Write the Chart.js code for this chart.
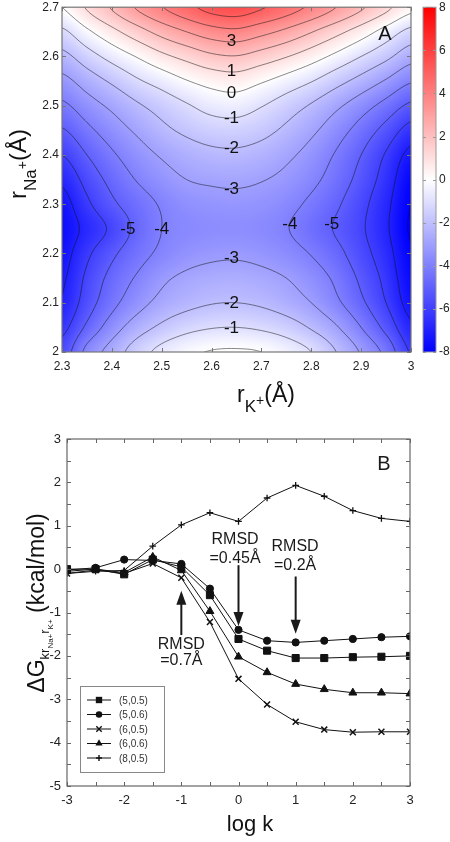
<!DOCTYPE html>
<html>
<head>
<meta charset="utf-8">
<script src="https://cdn.jsdelivr.net/npm/chart.js@4.4.0/dist/chart.umd.min.js"></script>
<style>
  html, body { margin: 0; padding: 0; background: #fff; }
  #wrapA { position: absolute; left: 0; top: -3px; width: 450px; height: 423px; }
  #wrapB { position: absolute; left: 0; top: 420px; width: 450px; height: 422px; }
</style>
</head>
<body>
<div id="wrapA"><canvas id="mapA"></canvas></div>
<div id="wrapB"><canvas id="lineB"></canvas></div>
<script>
const FONT = '"Liberation Sans", Arial, sans-serif';

// ---- panel A : free energy map ----
const gridX = [2.30, 2.35, 2.40, 2.45, 2.50, 2.55, 2.60, 2.65, 2.70, 2.75, 2.80, 2.85, 2.90, 2.95, 3.00];
const gridY = [2.00, 2.05, 2.10, 2.15, 2.20, 2.25, 2.30, 2.35, 2.40, 2.45, 2.50, 2.55, 2.60, 2.65, 2.70];
const z200 = [-5.6, -3.7, -2.6, -1.5, -0.7, -0.2, 0.05, 0.1, 0.0, -0.4, -1.0, -2.0, -3.1, -4.3, -6.1];
const z205 = [-6.3, -4.8, -3.5, -2.5, -1.8, -1.3, -1.05, -1.0, -1.15, -1.5, -2.1, -2.9, -4.0, -5.3, -6.8];
const z210 = [-6.9, -5.5, -4.3, -3.4, -2.7, -2.3, -2.05, -2.0, -2.15, -2.5, -3.0, -3.8, -4.8, -6.0, -7.4];
const z215 = [-7.15, -5.8, -4.7, -3.9, -3.2, -2.8, -2.6, -2.55, -2.7, -3.0, -3.5, -4.2, -5.2, -6.3, -7.7];
const z220 = [-7.4, -6.2, -5.2, -4.4, -3.8, -3.4, -3.2, -3.15, -3.3, -3.6, -4.05, -4.7, -5.6, -6.6, -7.9];
const z225 = [-7.6, -6.7, -5.8, -4.75, -4.0, -3.7, -3.58, -3.55, -3.65, -3.95, -4.5, -5.1, -5.85, -6.85, -8.1];
const z230 = [-7.4, -6.2, -5.2, -4.5, -3.9, -3.5, -3.35, -3.3, -3.4, -3.7, -4.2, -4.85, -5.7, -6.75, -8.0];
const z235 = [-6.8, -5.65, -4.7, -3.95, -3.4, -3.0, -2.85, -2.8, -2.95, -3.25, -3.75, -4.45, -5.35, -6.45, -7.8];
const z240 = [-6.0, -5.0, -4.15, -3.45, -2.9, -2.5, -2.25, -2.2, -2.4, -2.8, -3.35, -4.1, -5.0, -6.1, -7.3];
const z245 = [-5.1, -4.25, -3.5, -2.85, -2.25, -1.8, -1.5, -1.45, -1.7, -2.2, -2.8, -3.55, -4.4, -5.35, -6.4];
const z250 = [-4.2, -3.45, -2.8, -2.15, -1.6, -1.1, -0.65, -0.55, -0.95, -1.5, -2.1, -2.8, -3.55, -4.35, -5.2];
const z255 = [-3.3, -2.55, -1.85, -1.15, -0.6, -0.05, 0.35, 0.5, 0.1, -0.4, -0.95, -1.65, -2.35, -3.1, -3.9];
const z260 = [-2.3, -1.45, -0.65, 0.05, 0.75, 1.3, 1.8, 1.95, 1.55, 1.05, 0.45, -0.25, -1.0, -1.75, -2.6];
const z265 = [-1.2, -0.2, 0.7, 1.55, 2.35, 3.0, 3.55, 3.75, 3.3, 2.75, 2.05, 1.3, 0.5, -0.4, -1.3];
const z270 = [0.0, 1.1, 2.1, 3.1, 3.95, 4.7, 5.35, 5.55, 5.1, 4.5, 3.8, 3.0, 2.15, 1.25, 0.3];
const zGrid = [z200, z205, z210, z215, z220, z225, z230, z235, z240, z245, z250, z255, z260, z265, z270];

const contourLevels = [-8, -7, -6, -5, -4, -3, -2, -1, 0, 1, 2, 3, 4, 5, 6];
const labelText = ['3', '1', '0', '-1', '-2', '-3', '-3', '-2', '-1', '-5', '-4', '-4', '-5'];
const labelX = [2.64, 2.64, 2.64, 2.64, 2.64, 2.64, 2.64, 2.64, 2.64, 2.432, 2.50, 2.757, 2.841];
const labelY = [2.631, 2.569, 2.525, 2.474, 2.414, 2.331, 2.19, 2.099, 2.049, 2.25, 2.25, 2.26, 2.26];
const cbTicks = [8, 6, 4, 2, 0, -2, -4, -6, -8];

// ---- panel B : dG vs log k ----
const logK = [-3, -2.5, -2, -1.5, -1, -0.5, 0, 0.5, 1, 1.5, 2, 2.5, 3];
const seriesNames = ['(5,0.5)', '(5,0.6)', '(6,0.5)', '(6,0.6)', '(8,0.5)'];
const g505 = [0.0, 0.0, -0.12, 0.22, 0.05, -0.6, -1.61, -1.88, -2.05, -2.05, -2.03, -2.02, -2.0];
const g506 = [-0.02, 0.03, 0.22, 0.2, 0.12, -0.45, -1.4, -1.65, -1.69, -1.65, -1.61, -1.57, -1.55];
const g605 = [-0.1, -0.02, -0.1, 0.13, -0.2, -1.22, -2.53, -3.12, -3.52, -3.7, -3.76, -3.75, -3.75];
const g606 = [-0.05, 0.0, -0.08, 0.28, -0.03, -0.97, -2.02, -2.38, -2.65, -2.77, -2.85, -2.85, -2.87];
const g805 = [-0.1, -0.05, -0.03, 0.53, 1.02, 1.3, 1.1, 1.64, 1.93, 1.68, 1.35, 1.17, 1.1];

const rmsdX = [-1, -0.06, 0.99];
const rmsdTop = ['RMSD', 'RMSD', 'RMSD'];
const rmsdBottom = ['=0.7Å', '=0.45Å', '=0.2Å'];
const rmsdTopY = [-1.75, 0.69, 0.53];
const rmsdBottomY = [-2.12, 0.25, 0.07];
const arrowX = [-1, 0, 1];
const arrowFrom = [-1.52, 0.09, -0.17];
const arrowTo = [-0.5, -1.31, -1.49];

// ---------- helpers ----------
function cr(p0, p1, p2, p3, t) {
  return p1 + 0.5 * t * (p2 - p0 + t * (2 * p0 - 5 * p1 + 4 * p2 - p3 + t * (3 * (p1 - p2) + p3 - p0)));
}
function zAt(xv, yv) {
  const nx = gridX.length, ny = gridY.length;
  let fx = (xv - gridX[0]) / (gridX[1] - gridX[0]);
  let fy = (yv - gridY[0]) / (gridY[1] - gridY[0]);
  fx = Math.max(0, Math.min(nx - 1, fx));
  fy = Math.max(0, Math.min(ny - 1, fy));
  const i = Math.min(nx - 2, Math.floor(fx)), j = Math.min(ny - 2, Math.floor(fy));
  const tx = fx - i, ty = fy - j;
  const g = (a, b) => zGrid[Math.max(0, Math.min(ny - 1, b))][Math.max(0, Math.min(nx - 1, a))];
  const col = [];
  for (let m = -1; m <= 2; m++) col.push(cr(g(i - 1, j + m), g(i, j + m), g(i + 1, j + m), g(i + 2, j + m), tx));
  return cr(col[0], col[1], col[2], col[3], ty);
}
function colorFor(v) {
  const t = Math.max(-1, Math.min(1, v / 8));
  if (t >= 0) { const c = Math.round(255 * (1 - t)); return [255, c, c]; }
  const c = Math.round(255 * (1 + t));
  return [c, c, 255];
}
// text made of runs (sub/superscripts), centred on cx
function drawRuns(ctx, runs, cx, baseY) {
  let total = 0;
  runs.forEach(r => { ctx.font = r.size + 'px ' + FONT; total += ctx.measureText(r.t).width; });
  let x = cx - total / 2;
  ctx.textAlign = 'left'; ctx.textBaseline = 'alphabetic';
  runs.forEach(r => {
    ctx.font = r.size + 'px ' + FONT;
    ctx.fillText(r.t, x, baseY + (r.dy || 0));
    x += ctx.measureText(r.t).width;
  });
}
function inwardTicks(chart, xVals, yVals, len, color) {
  const { ctx, chartArea: a, scales: { x, y } } = chart;
  ctx.save();
  ctx.strokeStyle = color; ctx.lineWidth = 1;
  ctx.beginPath();
  xVals.forEach(v => {
    const p = Math.round(x.getPixelForValue(v)) + 0.5;
    ctx.moveTo(p, a.bottom); ctx.lineTo(p, a.bottom - len);
    ctx.moveTo(p, a.top); ctx.lineTo(p, a.top + len);
  });
  yVals.forEach(v => {
    const p = Math.round(y.getPixelForValue(v)) + 0.5;
    ctx.moveTo(a.left, p); ctx.lineTo(a.left + len, p);
    ctx.moveTo(a.right, p); ctx.lineTo(a.right - len, p);
  });
  ctx.stroke();
  ctx.lineWidth = 1.2;
  ctx.strokeRect(a.left, a.top, a.right - a.left, a.bottom - a.top);
  ctx.restore();
}

// ---------- panel A ----------
const heatPlugin = {
  id: 'heat',
  beforeDatasetsDraw(chart) {
    const { ctx, chartArea: a, scales } = chart;
    const xs = scales.x, ys = scales.y;
    const w = Math.round(a.right - a.left), h = Math.round(a.bottom - a.top);
    const off = document.createElement('canvas');
    off.width = w; off.height = h;
    const octx = off.getContext('2d');
    const img = octx.createImageData(w, h);
    for (let j = 0; j < h; j++) {
      const yv = ys.getValueForPixel(a.top + j + 0.5);
      for (let i = 0; i < w; i++) {
        const c = colorFor(zAt(xs.getValueForPixel(a.left + i + 0.5), yv));
        const k = (j * w + i) * 4;
        img.data[k] = c[0]; img.data[k + 1] = c[1]; img.data[k + 2] = c[2]; img.data[k + 3] = 255;
      }
    }
    octx.putImageData(img, 0, 0);
    ctx.drawImage(off, a.left, a.top, w, h);

    // contour lines (marching squares on the sampled field)
    const N = 140;
    const vx = [], vy = [];
    for (let i = 0; i <= N; i++) {
      vx.push(xs.min + (xs.max - xs.min) * i / N);
      vy.push(ys.min + (ys.max - ys.min) * i / N);
    }
    const V = vy.map(yv => vx.map(xv => zAt(xv, yv)));
    const px = vx.map(v => xs.getPixelForValue(v));
    const py = vy.map(v => ys.getPixelForValue(v));
    const lerp = (p, q, t) => p + (q - p) * t;
    ctx.save();
    ctx.beginPath(); ctx.rect(a.left, a.top, a.right - a.left, a.bottom - a.top); ctx.clip();
    ctx.strokeStyle = 'rgba(20,20,20,0.85)';
    ctx.lineWidth = 0.6;
    ctx.beginPath();
    contourLevels.forEach(L => {
      for (let j = 0; j < N; j++) {
        for (let i = 0; i < N; i++) {
          const p00 = V[j][i], p10 = V[j][i + 1], p11 = V[j + 1][i + 1], p01 = V[j + 1][i];
          const pts = [];
          if ((p00 < L) !== (p10 < L)) pts.push([lerp(px[i], px[i + 1], (L - p00) / (p10 - p00)), py[j]]);
          if ((p10 < L) !== (p11 < L)) pts.push([px[i + 1], lerp(py[j], py[j + 1], (L - p10) / (p11 - p10))]);
          if ((p01 < L) !== (p11 < L)) pts.push([lerp(px[i], px[i + 1], (L - p01) / (p11 - p01)), py[j + 1]]);
          if ((p00 < L) !== (p01 < L)) pts.push([px[i], lerp(py[j], py[j + 1], (L - p00) / (p01 - p00))]);
          for (let s = 0; s + 1 < pts.length; s += 2) {
            ctx.moveTo(pts[s][0], pts[s][1]);
            ctx.lineTo(pts[s + 1][0], pts[s + 1][1]);
          }
        }
      }
    });
    ctx.stroke();
    ctx.restore();
  },
  afterDraw(chart) {
    const { ctx, chartArea: a, scales } = chart;
    const xs = scales.x, ys = scales.y, cb = scales.cb;
    inwardTicks(chart, xs.ticks.map(t => t.value), ys.ticks.map(t => t.value), 4, '#777');

    // contour labels
    ctx.save();
    ctx.fillStyle = '#111';
    ctx.font = '17px ' + FONT;
    ctx.textAlign = 'center'; ctx.textBaseline = 'middle';
    labelText.forEach((t, i) => ctx.fillText(t, xs.getPixelForValue(labelX[i]), ys.getPixelForValue(labelY[i])));
    ctx.font = '20px ' + FONT;
    ctx.fillText('A', a.right - 26, a.top + 27);

    // colour bar
    const bx = 423, bw = 13;
    const top = cb.getPixelForValue(8), bot = cb.getPixelForValue(-8);
    for (let p = Math.floor(top); p < bot; p++) {
      const c = colorFor(cb.getValueForPixel(p + 0.5));
      ctx.fillStyle = 'rgb(' + c.join(',') + ')';
      ctx.fillRect(bx, p, bw, 1);
    }
    ctx.strokeStyle = '#999'; ctx.lineWidth = 1;
    ctx.strokeRect(bx, top, bw, bot - top);
    ctx.beginPath();
    cbTicks.forEach(v => {
      const p = Math.round(cb.getPixelForValue(v)) + 0.5;
      ctx.moveTo(bx + bw, p); ctx.lineTo(bx + bw - 3, p);
      ctx.moveTo(bx, p); ctx.lineTo(bx + 3, p);
    });
    ctx.stroke();
    ctx.fillStyle = '#222';
    ctx.font = '12px ' + FONT;
    ctx.textAlign = 'left'; ctx.textBaseline = 'middle';
    cbTicks.forEach(v => ctx.fillText(String(v), bx + bw + 3, cb.getPixelForValue(v)));

    // axis titles
    ctx.fillStyle = '#111';
    drawRuns(ctx, [
      { t: 'r', size: 23 }, { t: 'K', size: 17, dy: 10 }, { t: '+', size: 14, dy: 3 }, { t: '(Å)', size: 23 }
    ], 266, 405);
    ctx.translate(26, 167);
    ctx.rotate(-Math.PI / 2);
    drawRuns(ctx, [
      { t: 'r', size: 24 }, { t: 'Na', size: 17, dy: 10 }, { t: '+', size: 14, dy: 1 }, { t: '(Å)', size: 24 }
    ], 0, 0);
    ctx.restore();
  }
};

const fmt1 = v => String(Math.round(v * 10) / 10);

new Chart(document.getElementById('mapA'), {
  type: 'scatter',
  data: { datasets: [{ data: [] }] },
  options: {
    responsive: true,
    maintainAspectRatio: false,
    animation: false,
    events: [],
    layout: { padding: { left: 0, right: 39, top: 8, bottom: 0 } },
    plugins: { legend: { display: false }, tooltip: { enabled: false } },
    scales: {
      x: {
        type: 'linear', min: 2.3, max: 3.0,
        grid: { display: false, drawTicks: false }, border: { display: false },
        ticks: { stepSize: 0.1, padding: 7, autoSkip: false, maxRotation: 0, color: '#222',
                 font: { family: FONT, size: 12 }, callback: fmt1 },
        afterFit: s => { s.height = 68; }
      },
      y: {
        type: 'linear', min: 2.0, max: 2.7,
        grid: { display: false, drawTicks: false }, border: { display: false },
        ticks: { stepSize: 0.1, padding: 3, autoSkip: false, color: '#222',
                 font: { family: FONT, size: 12 }, callback: fmt1 },
        afterFit: s => { s.width = 62; }
      },
      cb: { type: 'linear', position: 'right', min: -8, max: 8, display: false }
    }
  },
  plugins: [heatPlugin]
});

// ---------- panel B ----------
const markerStyles = ['rect', 'circle', 'crossRot', 'triangle', 'cross'];
const markerRadius = [5, 3.6, 4.2, 4.6, 3.3];
const seriesValues = [g505, g506, g605, g606, g805];

function drawMarker(ctx, style, r, x, y) {
  ctx.beginPath();
  if (style === 'rect') { const s = r * Math.SQRT1_2; ctx.rect(x - s, y - s, 2 * s, 2 * s); ctx.fill(); }
  else if (style === 'circle') { ctx.arc(x, y, r, 0, Math.PI * 2); ctx.fill(); }
  else if (style === 'triangle') {
    ctx.moveTo(x, y - r); ctx.lineTo(x + r * 0.866, y + r * 0.5); ctx.lineTo(x - r * 0.866, y + r * 0.5);
    ctx.closePath(); ctx.fill();
  } else if (style === 'crossRot') {
    const s = r * 0.707;
    ctx.moveTo(x - s, y - s); ctx.lineTo(x + s, y + s); ctx.moveTo(x - s, y + s); ctx.lineTo(x + s, y - s); ctx.stroke();
  } else {
    ctx.moveTo(x - r, y); ctx.lineTo(x + r, y); ctx.moveTo(x, y - r); ctx.lineTo(x, y + r); ctx.stroke();
  }
}

const notesPlugin = {
  id: 'notes',
  afterDraw(chart) {
    const { ctx, chartArea: a, scales: { x, y } } = chart;
    const halfX = [], halfY = [];
    for (let v = -3; v <= 3.001; v += 0.5) halfX.push(v);
    for (let v = -5; v <= 3.001; v += 0.5) halfY.push(v);
    inwardTicks(chart, halfX, halfY, 4, '#666');

    ctx.save();
    // RMSD notes and arrows
    ctx.fillStyle = '#1a1a1a'; ctx.strokeStyle = '#1a1a1a';
    ctx.font = '16px ' + FONT;
    ctx.textAlign = 'center'; ctx.textBaseline = 'middle';
    rmsdX.forEach((v, i) => {
      const px = x.getPixelForValue(v);
      ctx.fillText(rmsdTop[i], px, y.getPixelForValue(rmsdTopY[i]));
      ctx.fillText(rmsdBottom[i], px, y.getPixelForValue(rmsdBottomY[i]));
    });
    arrowX.forEach((v, i) => {
      const px = x.getPixelForValue(v);
      const y0 = y.getPixelForValue(arrowFrom[i]), y1 = y.getPixelForValue(arrowTo[i]);
      const dir = Math.sign(y1 - y0);
      ctx.lineWidth = 2;
      ctx.beginPath(); ctx.moveTo(px, y0); ctx.lineTo(px, y1 - dir * 10); ctx.stroke();
      ctx.beginPath(); ctx.moveTo(px, y1); ctx.lineTo(px - 5, y1 - dir * 14); ctx.lineTo(px + 5, y1 - dir * 14);
      ctx.closePath(); ctx.fill();
    });

    // panel letter
    ctx.font = '20px ' + FONT;
    ctx.fillText('B', a.right - 26, a.top + 25);

    // legend box
    const lx = a.left + 13, ly = a.top + 247, lw = 84, lh = 86;
    ctx.fillStyle = '#fff';
    ctx.fillRect(lx, ly, lw, lh);
    ctx.strokeStyle = '#888'; ctx.lineWidth = 1;
    ctx.strokeRect(lx + 0.5, ly + 0.5, lw, lh);
    seriesNames.forEach((name, i) => {
      const ry = ly + 14 + i * 14.5;
      ctx.strokeStyle = '#111'; ctx.fillStyle = '#111'; ctx.lineWidth = 1;
      ctx.beginPath(); ctx.moveTo(lx + 7, ry); ctx.lineTo(lx + 31, ry); ctx.stroke();
      ctx.lineWidth = 1.4;
      drawMarker(ctx, markerStyles[i], markerRadius[i] * 0.9, lx + 19, ry);
      ctx.fillStyle = '#333';
      ctx.font = '10px ' + FONT; ctx.textAlign = 'left'; ctx.textBaseline = 'middle';
      ctx.fillText(name, lx + 39, ry + 1);
    });

    // axis titles
    ctx.fillStyle = '#111';
    ctx.font = '22px ' + FONT; ctx.textAlign = 'center'; ctx.textBaseline = 'alphabetic';
    ctx.fillText('log k', 250, 411);
    ctx.translate(44, 183);
    ctx.rotate(-Math.PI / 2);
    drawRuns(ctx, [
      { t: 'ΔG', size: 23 }, { t: 'k', size: 13, dy: 5 }, { t: 'r', size: 13, dy: 5 },
      { t: 'Na+', size: 8, dy: 9 }, { t: 'r', size: 13, dy: 5 }, { t: 'K+', size: 8, dy: 9 },
      { t: ' (kcal/mol)', size: 23 }
    ], 0, 0);
    ctx.restore();
  }
};

new Chart(document.getElementById('lineB'), {
  type: 'scatter',
  data: {
    datasets: seriesNames.map((name, i) => ({
      label: name,
      data: logK.map((k, n) => ({ x: k, y: seriesValues[i][n] })),
      showLine: true,
      borderColor: '#111',
      borderWidth: 1,
      backgroundColor: '#111',
      pointStyle: markerStyles[i],
      pointRadius: markerRadius[i],
      pointBorderWidth: markerStyles[i] === 'crossRot' ? 1.5 : (markerStyles[i] === 'cross' ? 1.3 : 1),
      pointBorderColor: '#111',
      pointBackgroundColor: '#111',
      tension: 0
    }))
  },
  options: {
    responsive: true,
    maintainAspectRatio: false,
    animation: false,
    events: [],
    layout: { padding: { left: 0, right: 40, top: 19, bottom: 0 } },
    plugins: { legend: { display: false }, tooltip: { enabled: false } },
    scales: {
      x: {
        type: 'linear', min: -3, max: 3,
        grid: { display: false, drawTicks: false }, border: { display: false },
        ticks: { stepSize: 1, padding: 7, color: '#222', font: { family: FONT, size: 13 } },
        afterFit: s => { s.height = 56; }
      },
      y: {
        type: 'linear', min: -5, max: 3,
        grid: { display: false, drawTicks: false }, border: { display: false },
        ticks: { stepSize: 1, padding: 6, color: '#222', font: { family: FONT, size: 13 } },
        afterFit: s => { s.width = 67; }
      }
    }
  },
  plugins: [notesPlugin]
});
</script>
</body>
</html>
